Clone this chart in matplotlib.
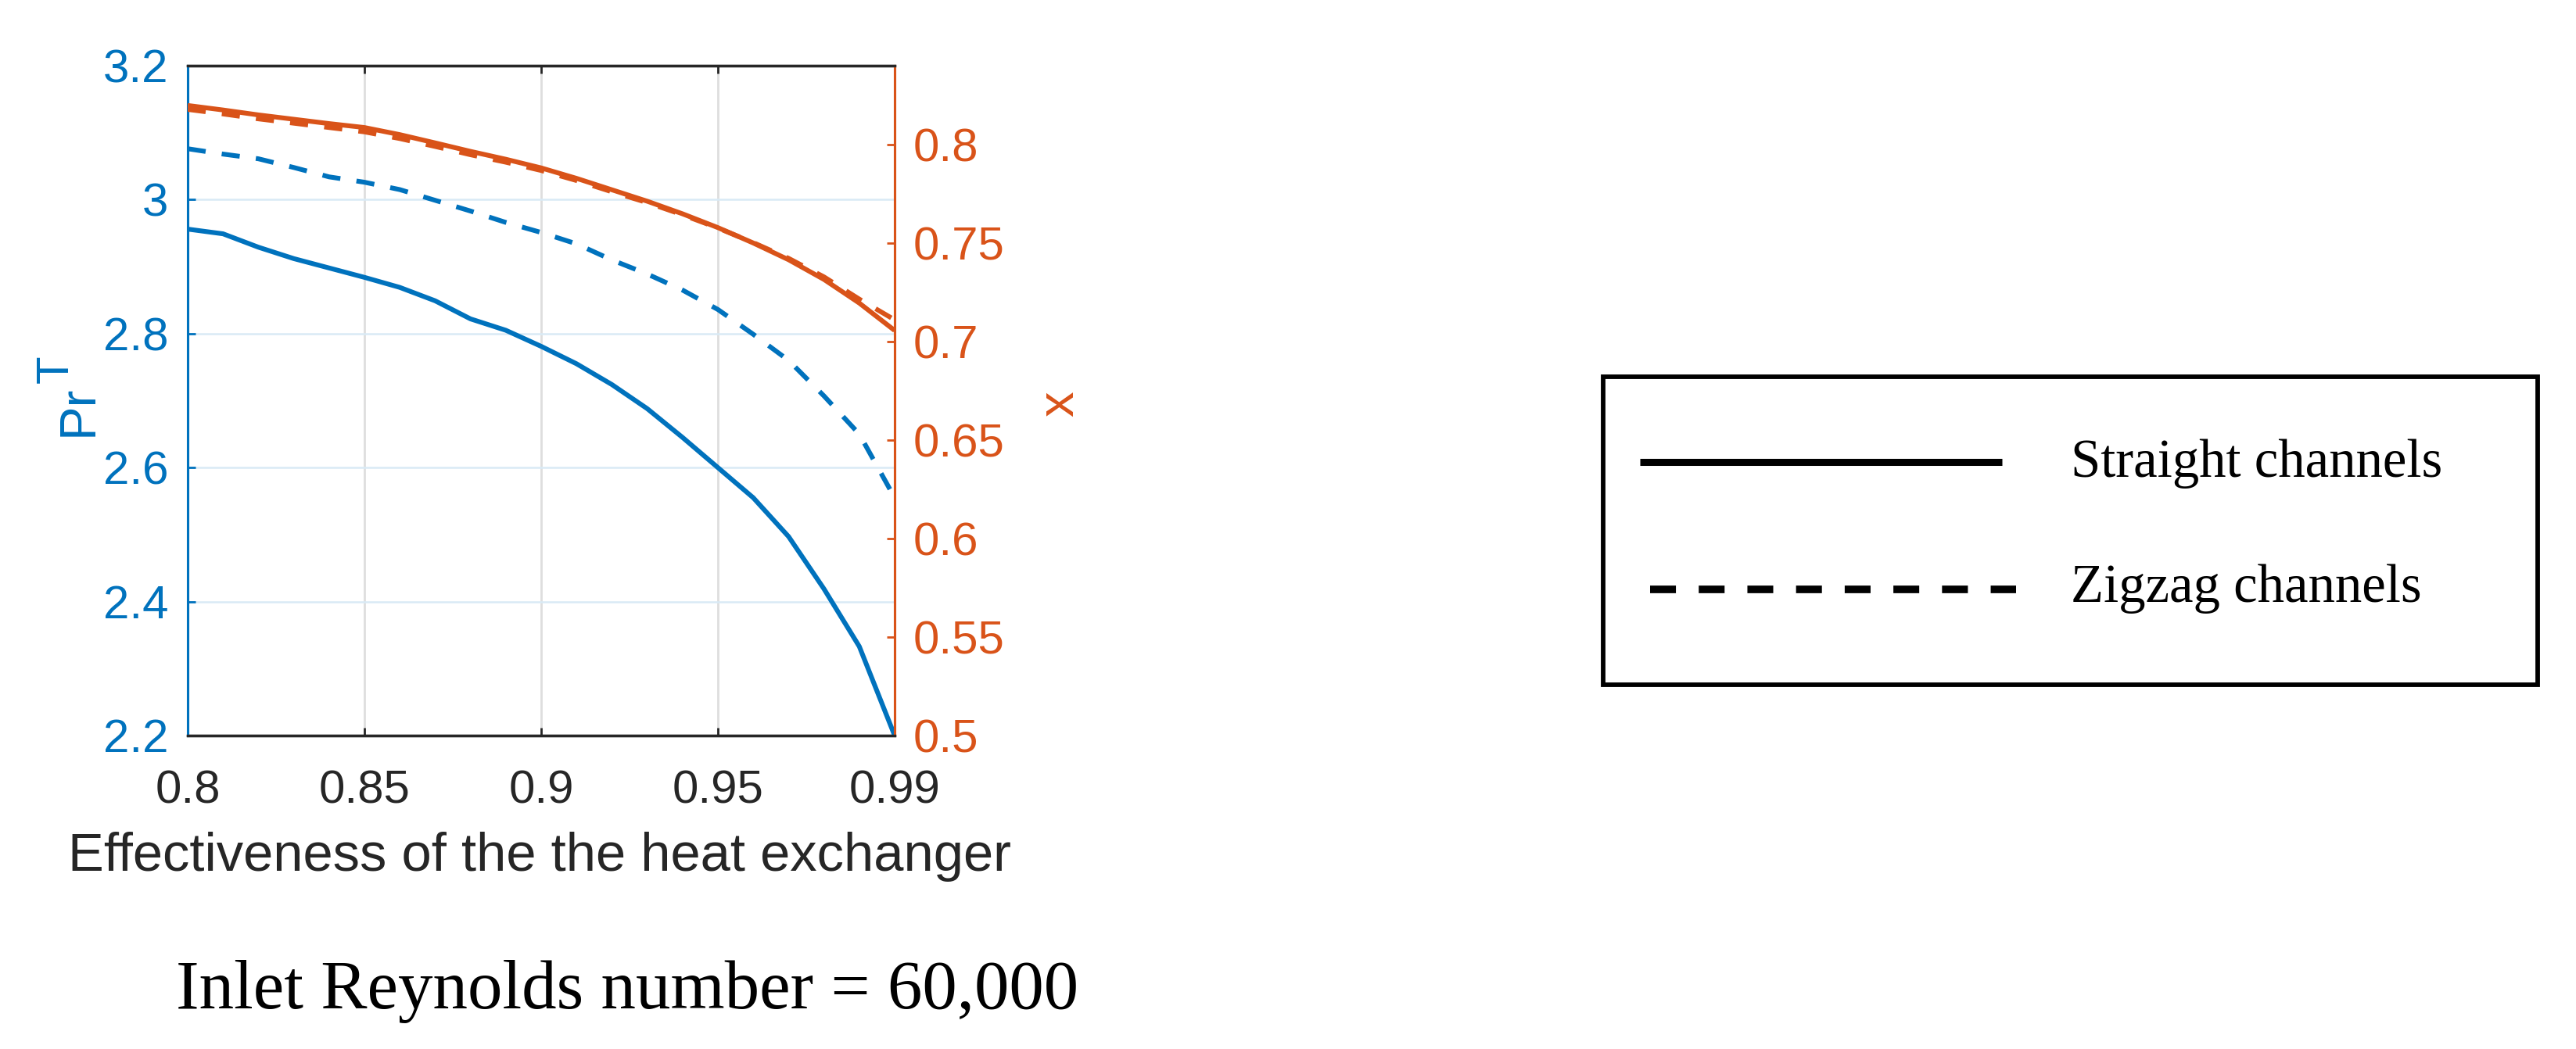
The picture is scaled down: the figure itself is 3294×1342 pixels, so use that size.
import matplotlib
matplotlib.use("Agg")
import matplotlib.pyplot as plt
from matplotlib.lines import Line2D
from matplotlib.patches import Rectangle

# ---------------- data ----------------
effectiveness = [0.80, 0.81, 0.82, 0.83, 0.84, 0.85, 0.86, 0.87, 0.88, 0.89, 0.90,
                 0.91, 0.92, 0.93, 0.94, 0.95, 0.96, 0.97, 0.98, 0.99, 1.00]
pr_straight = [2.956, 2.949, 2.929, 2.912, 2.898, 2.884, 2.869, 2.849, 2.822, 2.805, 2.781,
               2.755, 2.724, 2.688, 2.645, 2.600, 2.555, 2.497, 2.419, 2.333, 2.200]
pr_zigzag = [3.076, 3.068, 3.061, 3.048, 3.034, 3.026, 3.015, 2.999, 2.983, 2.966, 2.951,
             2.934, 2.910, 2.889, 2.865, 2.836, 2.799, 2.760, 2.707, 2.650, 2.555]
x_straight = [0.8198, 0.8175, 0.8150, 0.8128, 0.8106, 0.8086, 0.8050, 0.8008, 0.7965, 0.7925, 0.7881,
              0.7828, 0.7770, 0.7712, 0.7648, 0.7578, 0.7500, 0.7415, 0.7315, 0.7195, 0.7056]
x_zigzag = [0.8178, 0.8155, 0.8130, 0.8108, 0.8086, 0.8064, 0.8030, 0.7990, 0.7948, 0.7910, 0.7868,
            0.7817, 0.7760, 0.7705, 0.7643, 0.7576, 0.7502, 0.7422, 0.7328, 0.7215, 0.7110]

x_tick_pos = [0.80, 0.85, 0.90, 0.95, 1.00]
x_tick_labels = ["0.8", "0.85", "0.9", "0.95", "0.99"]
left_ticks = [2.2, 2.4, 2.6, 2.8, 3.0, 3.2]
left_tick_labels = ["2.2", "2.4", "2.6", "2.8", "3", "3.2"]
right_ticks = [0.5, 0.55, 0.6, 0.65, 0.7, 0.75, 0.8]
right_tick_labels = ["0.5", "0.55", "0.6", "0.65", "0.7", "0.75", "0.8"]

legend_labels = ["Straight channels", "Zigzag channels"]
x_label = "Effectiveness of the the heat exchanger"
caption = "Inlet Reynolds number = 60,000"

# ---------------- style ----------------
BLUE = "#0072BD"
ORANGE = "#D95319"
DARK = "#262626"
W, H = 3294, 1342
SANS = ["Liberation Sans", "DejaVu Sans"]
SERIF = ["Liberation Serif", "DejaVu Serif"]

fig = plt.figure(figsize=(W / 100, H / 100), dpi=100)
fig.patch.set_facecolor("white")

ax = fig.add_axes([240 / W, 1 - 941 / H, 904 / W, 857 / H])
ax2 = ax.twinx()

lw = 4.4
dash = (0, (3.8, 3.4))
ax.plot(effectiveness, pr_straight, color=BLUE, lw=lw, solid_capstyle="butt", zorder=3)
ax.plot(effectiveness, pr_zigzag, color=BLUE, lw=lw, linestyle=dash, zorder=3)
ax2.plot(effectiveness, x_straight, color=ORANGE, lw=lw, solid_capstyle="butt", zorder=3)
ax2.plot(effectiveness, x_zigzag, color=ORANGE, lw=lw, linestyle=dash, zorder=3)

ax.set_xlim(0.8, 1.0)
ax.set_ylim(2.2, 3.2)
ax2.set_ylim(0.5, 0.84)

ax.set_xticks(x_tick_pos)
ax.set_xticklabels(x_tick_labels, fontsize=43.2, color=DARK, family=SANS)
ax.set_yticks(left_ticks)
ax.set_yticklabels(left_tick_labels, fontsize=43.2, color=BLUE, family=SANS)
ax2.set_yticks(right_ticks)
ax2.set_yticklabels(right_tick_labels, fontsize=43.2, color=ORANGE, family=SANS)

ax.tick_params(axis="x", direction="in", length=7, width=2, color=DARK, pad=31.5,
               top=True, bottom=True)
ax.tick_params(axis="y", direction="in", length=7, width=2, color=BLUE, pad=18)
ax2.tick_params(axis="y", direction="in", length=7, width=2, color=ORANGE, pad=17)

ax.xaxis.grid(True, color="#DEDEDE", lw=2.0)
ax.yaxis.grid(True, color="#D9EAF5", lw=1.8)
ax.set_axisbelow(True)

for a in (ax, ax2):
    a.spines["top"].set_color(DARK)
    a.spines["bottom"].set_color(DARK)
    a.spines["top"].set_linewidth(2.4)
    a.spines["bottom"].set_linewidth(2.4)
    a.spines["left"].set_color(BLUE)
    a.spines["right"].set_color(ORANGE)
    a.spines["left"].set_linewidth(2.2)
    a.spines["right"].set_linewidth(2.2)

# axis labels
fig.text(118 / W, 1 - 558 / H, "Pr", rotation=90, rotation_mode="anchor",
         ha="left", va="baseline", fontsize=47, color=BLUE, family=SANS)
fig.text(87 / W, 1 - 490 / H, "T", rotation=90, rotation_mode="anchor",
         ha="left", va="baseline", fontsize=42, color=BLUE, family=SANS)
fig.text(1372 / W, 1 - 517 / H, "x", rotation=90, rotation_mode="anchor",
         ha="center", va="baseline", fontsize=47, color=ORANGE, family=SANS)
fig.text(690 / W, 1 - 1114 / H, x_label, ha="center", va="baseline",
         fontsize=49.5, color=DARK, family=SANS)

# caption
fig.text(802 / W, 1 - 1290 / H, caption, ha="center", va="baseline",
         fontsize=64, color="black", family=SERIF)

# legend box (separate panel on the right)
fig.patches.append(Rectangle((2049.5 / W, 1 - 876 / H), (3245 - 2049.5) / W, (876 - 482) / H,
                             transform=fig.transFigure, fill=False, lw=4.2, ec="black"))
fig.lines.append(Line2D([2097 / W, 2560 / W], [1 - 591 / H, 1 - 591 / H],
                        transform=fig.transFigure, color="black", lw=6.5, solid_capstyle="butt"))
fig.lines.append(Line2D([2110 / W, 2578 / W], [1 - 754 / H, 1 - 754 / H],
                        transform=fig.transFigure, color="black", lw=7,
                        linestyle=(0, (3.4, 3.0)), dash_capstyle="butt"))
fig.text(2648 / W, 1 - 610 / H, legend_labels[0], ha="left", va="baseline",
         fontsize=49.5, color="black", family=SERIF)
fig.text(2648 / W, 1 - 770 / H, legend_labels[1], ha="left", va="baseline",
         fontsize=49.5, color="black", family=SERIF)

fig.savefig("out.png", dpi=100, facecolor="white")
